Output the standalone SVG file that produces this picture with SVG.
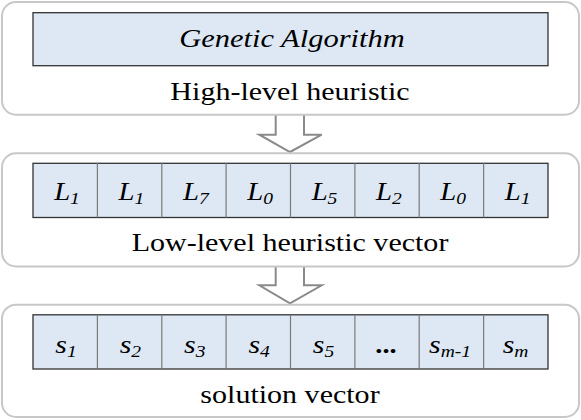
<svg xmlns="http://www.w3.org/2000/svg" width="581" height="420" viewBox="0 0 581 420">
<style>
.outer{fill:#ffffff;stroke:#c8c8c8;stroke-width:2}
.inner{fill:#dde8f4;stroke:#333333;stroke-width:1.3}
.div{stroke:#7a7a7a;stroke-width:1.2}
.arrow{fill:#ffffff;stroke:#8a8a8a;stroke-width:2;stroke-linejoin:miter}
.t{font-family:'Liberation Serif','Times New Roman',serif;fill:#000000;text-anchor:middle}
.lbl{font-size:26px}
.it{font-style:italic}
.cell{font-size:25px;font-style:italic}
.s{font-size:26px}
.sub{font-size:17px}
</style>
<rect width="581" height="420" fill="#ffffff"/>
<g id="connectors">
<path class="arrow" d="M275.7,114.7 V134.7 H259.3 L290,152 L321.7,134.7 H304 V114.7"/>
<path class="arrow" d="M275.7,266.5 V285.3 H259.3 L290,303.3 L321.7,285.3 H304 V266.5"/>
</g>
<g id="high-level">
<rect class="outer" x="2" y="2" width="577" height="112.7" rx="14"/>
<rect class="inner" x="33" y="12.7" width="515" height="53"/>
<text class="t it" font-size="25" transform="translate(292,47) scale(1.22,1)">Genetic Algorithm</text>
<text class="t lbl" transform="translate(290,100) scale(1.155,1)">High-level heuristic</text>
</g>
<g id="low-level">
<rect class="outer" x="2" y="153.3" width="577" height="113.2" rx="14"/>
<rect class="inner" x="33" y="163.3" width="515" height="54.2"/>
<g class="div">
<line x1="97.4" y1="163.3" x2="97.4" y2="217.5"/>
<line x1="161.8" y1="163.3" x2="161.8" y2="217.5"/>
<line x1="226.1" y1="163.3" x2="226.1" y2="217.5"/>
<line x1="290.5" y1="163.3" x2="290.5" y2="217.5"/>
<line x1="354.9" y1="163.3" x2="354.9" y2="217.5"/>
<line x1="419.2" y1="163.3" x2="419.2" y2="217.5"/>
<line x1="483.6" y1="163.3" x2="483.6" y2="217.5"/>
</g>
<text class="t cell" transform="translate(67,200) scale(1.15,1)">L<tspan class="sub" dy="3.5">1</tspan></text>
<text class="t cell" transform="translate(131.4,200) scale(1.15,1)">L<tspan class="sub" dy="3.5">1</tspan></text>
<text class="t cell" transform="translate(195.8,200) scale(1.15,1)">L<tspan class="sub" dy="3.5">7</tspan></text>
<text class="t cell" transform="translate(260.1,200) scale(1.15,1)">L<tspan class="sub" dy="3.5">0</tspan></text>
<text class="t cell" transform="translate(324.5,200) scale(1.15,1)">L<tspan class="sub" dy="3.5">5</tspan></text>
<text class="t cell" transform="translate(388.9,200) scale(1.15,1)">L<tspan class="sub" dy="3.5">2</tspan></text>
<text class="t cell" transform="translate(453.2,200) scale(1.15,1)">L<tspan class="sub" dy="3.5">0</tspan></text>
<text class="t cell" transform="translate(517.6,200) scale(1.15,1)">L<tspan class="sub" dy="3.5">1</tspan></text>
<text class="t lbl" transform="translate(290,251) scale(1.155,1)">Low-level heuristic vector</text>
</g>
<g id="solution">
<rect class="outer" x="2" y="304.7" width="577" height="112.3" rx="14"/>
<rect class="inner" x="33" y="314.8" width="515" height="54.2"/>
<g class="div">
<line x1="97.4" y1="314.8" x2="97.4" y2="369"/>
<line x1="161.8" y1="314.8" x2="161.8" y2="369"/>
<line x1="226.1" y1="314.8" x2="226.1" y2="369"/>
<line x1="290.5" y1="314.8" x2="290.5" y2="369"/>
<line x1="354.9" y1="314.8" x2="354.9" y2="369"/>
<line x1="419.2" y1="314.8" x2="419.2" y2="369"/>
<line x1="483.6" y1="314.8" x2="483.6" y2="369"/>
</g>
<text class="t cell s" transform="translate(66,353) scale(1.15,1)">s<tspan class="sub" dy="3.5">1</tspan></text>
<text class="t cell s" transform="translate(130.4,353) scale(1.15,1)">s<tspan class="sub" dy="3.5">2</tspan></text>
<text class="t cell s" transform="translate(194.8,353) scale(1.15,1)">s<tspan class="sub" dy="3.5">3</tspan></text>
<text class="t cell s" transform="translate(259.1,353) scale(1.15,1)">s<tspan class="sub" dy="3.5">4</tspan></text>
<text class="t cell s" transform="translate(323.5,353) scale(1.15,1)">s<tspan class="sub" dy="3.5">5</tspan></text>
<text class="t cell" font-weight="bold" transform="translate(387,353) scale(1.15,1)">...</text>
<text class="t cell s" transform="translate(450,353) scale(1.15,1)">s<tspan class="sub" dy="3.5">m-1</tspan></text>
<text class="t cell s" transform="translate(515.6,353) scale(1.15,1)">s<tspan class="sub" dy="3.5">m</tspan></text>
<text class="t lbl" transform="translate(290,403) scale(1.155,1)">solution vector</text>
</g>
</svg>
